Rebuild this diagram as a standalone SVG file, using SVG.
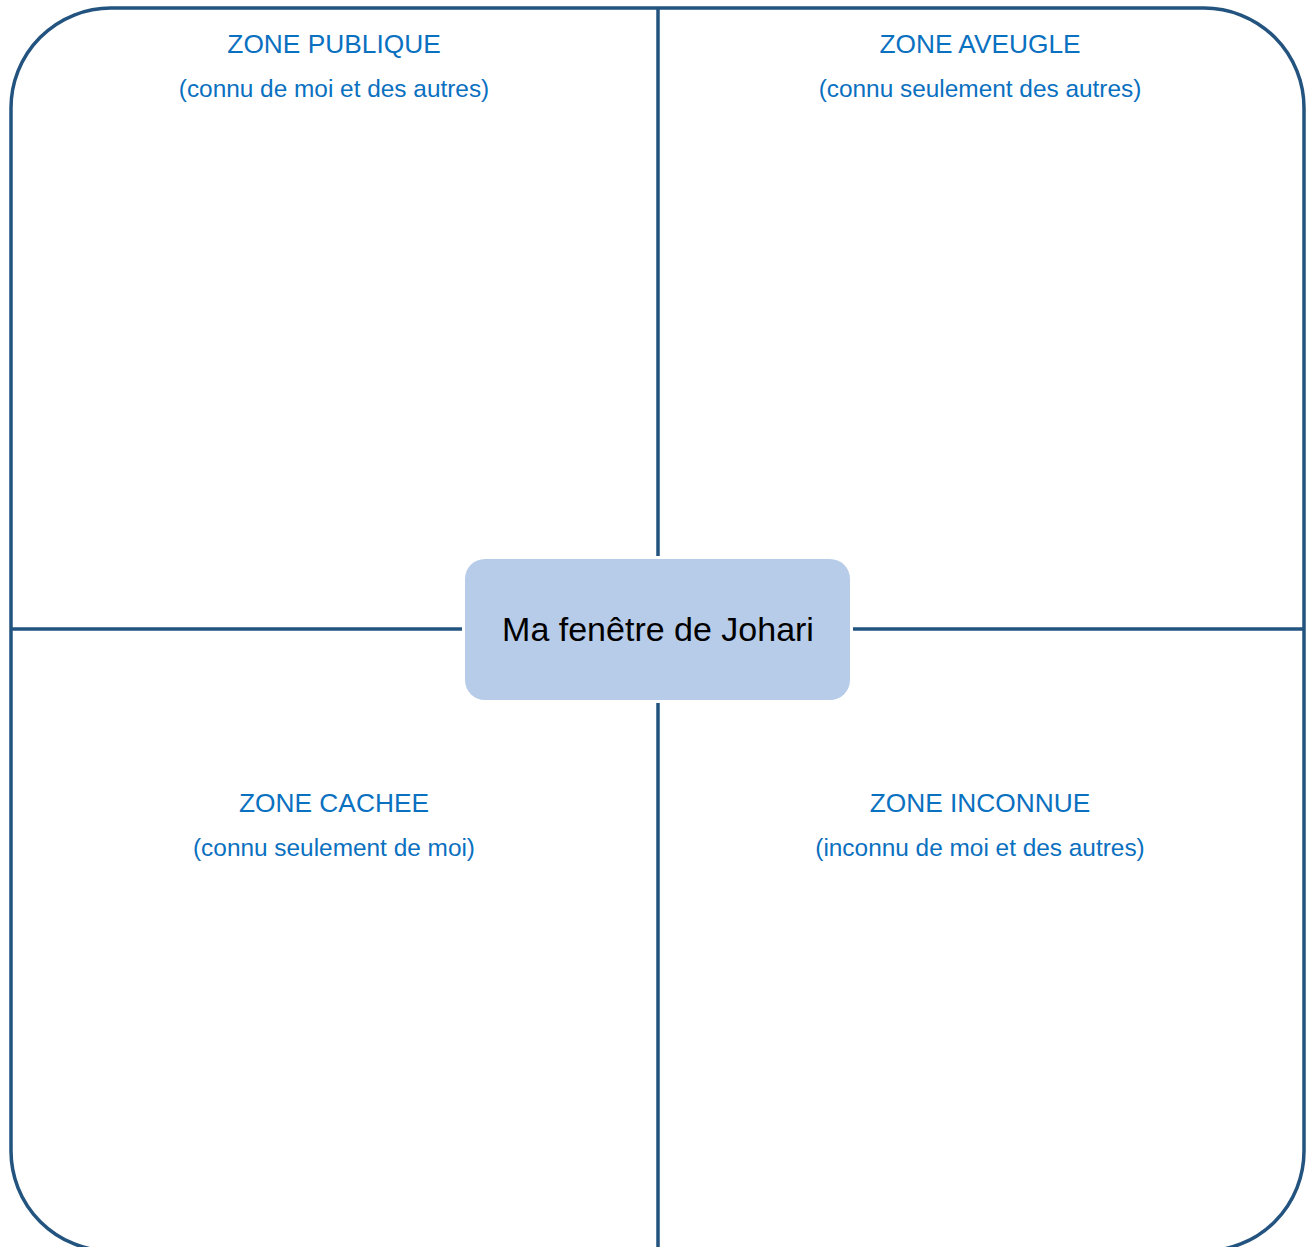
<svg xmlns="http://www.w3.org/2000/svg" width="1310" height="1247" viewBox="0 0 1310 1247">
<style>
.frame{fill:none;stroke:#23537F;stroke-width:3.5}
.ln{stroke:#23537F;stroke-width:3.5;fill:none}
.h{font-family:"Liberation Sans",Arial,sans-serif;font-size:26.3px;fill:#0A70C0;text-anchor:middle}
.s{font-family:"Liberation Sans",Arial,sans-serif;font-size:24.4px;fill:#0A70C0;text-anchor:middle}
.c{font-family:"Liberation Sans",Arial,sans-serif;font-size:34px;fill:#000;text-anchor:middle}
</style>
<rect width="1310" height="1247" fill="#fff"/>
<g id="frame">
<rect class="frame" x="11" y="8" width="1293" height="1243" rx="100" ry="100"/>
</g>
<g id="connectors">
<line class="ln" x1="658" y1="8" x2="658" y2="556"/>
<line class="ln" x1="658" y1="703" x2="658" y2="1251"/>
<line class="ln" x1="11" y1="629" x2="462" y2="629"/>
<line class="ln" x1="853" y1="629" x2="1304" y2="629"/>
</g>
<g id="zone-publique">
<text class="h" x="334" y="53">ZONE PUBLIQUE</text>
<text class="s" x="334" y="97">(connu de moi et des autres)</text>
</g>
<g id="zone-aveugle">
<text class="h" x="980" y="53">ZONE AVEUGLE</text>
<text class="s" x="980" y="97">(connu seulement des autres)</text>
</g>
<g id="zone-cachee">
<text class="h" x="334" y="812">ZONE CACHEE</text>
<text class="s" x="334" y="856">(connu seulement de moi)</text>
</g>
<g id="zone-inconnue">
<text class="h" x="980" y="812">ZONE INCONNUE</text>
<text class="s" x="980" y="856">(inconnu de moi et des autres)</text>
</g>
<g id="center">
<rect x="465" y="559" width="385" height="141" rx="20" ry="20" fill="#B7CCE8"/>
<text class="c" x="658" y="641">Ma fenêtre de Johari</text>
</g>
</svg>
